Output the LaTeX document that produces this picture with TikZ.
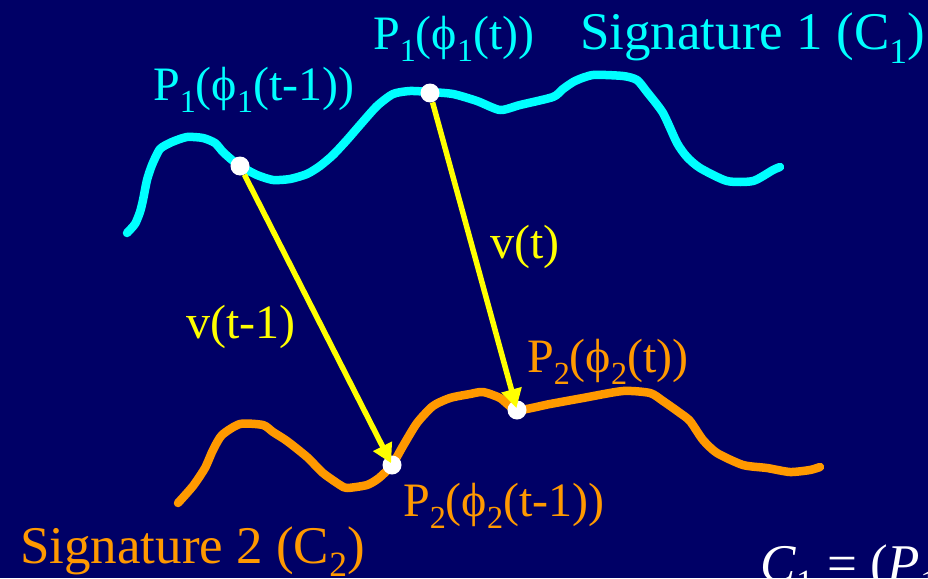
\documentclass[tikz,border=0pt]{standalone}
\usepackage{fontspec}
\setmainfont{Liberation Serif}
\usetikzlibrary{arrows.meta}
\definecolor{bgblue}{RGB}{0,0,102}
\definecolor{sigone}{RGB}{0,255,255}
\definecolor{sigtwo}{RGB}{255,153,0}
\definecolor{vecyel}{RGB}{255,255,0}
\newcommand\lsub[1]{\raisebox{-0.25em}{\scalebox{0.67}{#1}}}
\tikzset{
  curveone/.style={draw=sigone,line width=8.5pt,line cap=round,line join=round},
  curvetwo/.style={draw=sigtwo,line width=8.5pt,line cap=round,line join=round},
  vecarrow/.style={draw=vecyel,line width=5.5pt,shorten >=2pt,-{Triangle[length=19pt,width=20pt]}},
  dot/.style={circle,fill=white,inner sep=0pt,minimum size=19pt},
  lbl/.style={anchor=base west,inner sep=0pt,font=\fontsize{48}{56}\selectfont},
  siglbl/.style={anchor=base west,inner sep=0pt,font=\fontsize{53}{60}\selectfont},
}
\begin{document}
\begin{tikzpicture}[x=1pt,y=-1pt]
\fill[bgblue] (0,0) rectangle (928,578);
\useasboundingbox (0,0) rectangle (928,578);
% signature 1
\draw[curveone] plot[smooth,tension=0.4] coordinates {
 (127,233) (135,224) (140,212) (143,200) (147,180) (152,165) (160,149) (172,142)
 (187,137) (203,138) (215,143) (223,152) (232,160) (240,166) (257,175) (273,180)
 (290,179) (307,174) (320,166) (333,155) (347,140) (360,125) (377,106) (393,94)
 (410,91) (430,92) (453,94) (477,101) (500,110) (520,105) (553,97) (563,89)
 (575,81) (593,75) (623,76) (637,80) (647,92) (663,113) (677,143) (687,157)
 (700,168) (727,181) (753,181) (773,170) (780,167)};
% signature 2
\draw[curvetwo] plot[smooth,tension=0.4] coordinates {
 (178,503) (193,486) (205,468) (213,450) (222,435) (240,424) (263,425) (273,432)
 (287,441) (307,457) (323,473) (340,485) (347,488) (367,485) (379,478) (392,465)
 (403,446) (417,423) (433,406) (450,398) (470,394) (483,392) (500,398) (517,410)
 (550,404) (583,398) (623,391) (650,393) (663,401) (680,413) (690,421) (703,440)
 (717,453) (743,465) (767,468) (790,472) (810,470) (820,467)};
% points
\node[dot] (a1) at (240,166) {};
\node[dot] (a2) at (430,93) {};
\node[dot] (b1) at (392,465) {};
\node[dot] (b2) at (517,410) {};
% vectors
\draw[vecarrow] (a1) -- (b1.center);
\draw[vecarrow] (a2) -- (b2.center);
% labels
\node[lbl,text=sigone] (la1) at (153,100) {P\lsub{1}(ϕ\lsub{1}(t-1))};
\node[lbl,text=sigone] (la2) at (373,50) {P\lsub{1}(ϕ\lsub{1}(t))};
\node[siglbl,text=sigone] (s1) at (580,50) {Signature 1 (C\lsub{1})};
\node[lbl,text=vecyel] (v1) at (186,338) {v(t-1)};
\node[lbl,text=vecyel] (v2) at (490,258) {v(t)};
\node[lbl,text=sigtwo] (lb2) at (527,372) {P\lsub{2}(ϕ\lsub{2}(t))};
\node[lbl,text=sigtwo] (lb1) at (403,516) {P\lsub{2}(ϕ\lsub{2}(t-1))};
\node[siglbl,text=sigtwo] (s2) at (20,563) {Signature 2 (C\lsub{2})};
\node[siglbl,text=white] (eq) at (760,581) {\textit{C}\lsub{1} = (\textit{P}\lsub{1}};
\end{tikzpicture}
\end{document}
